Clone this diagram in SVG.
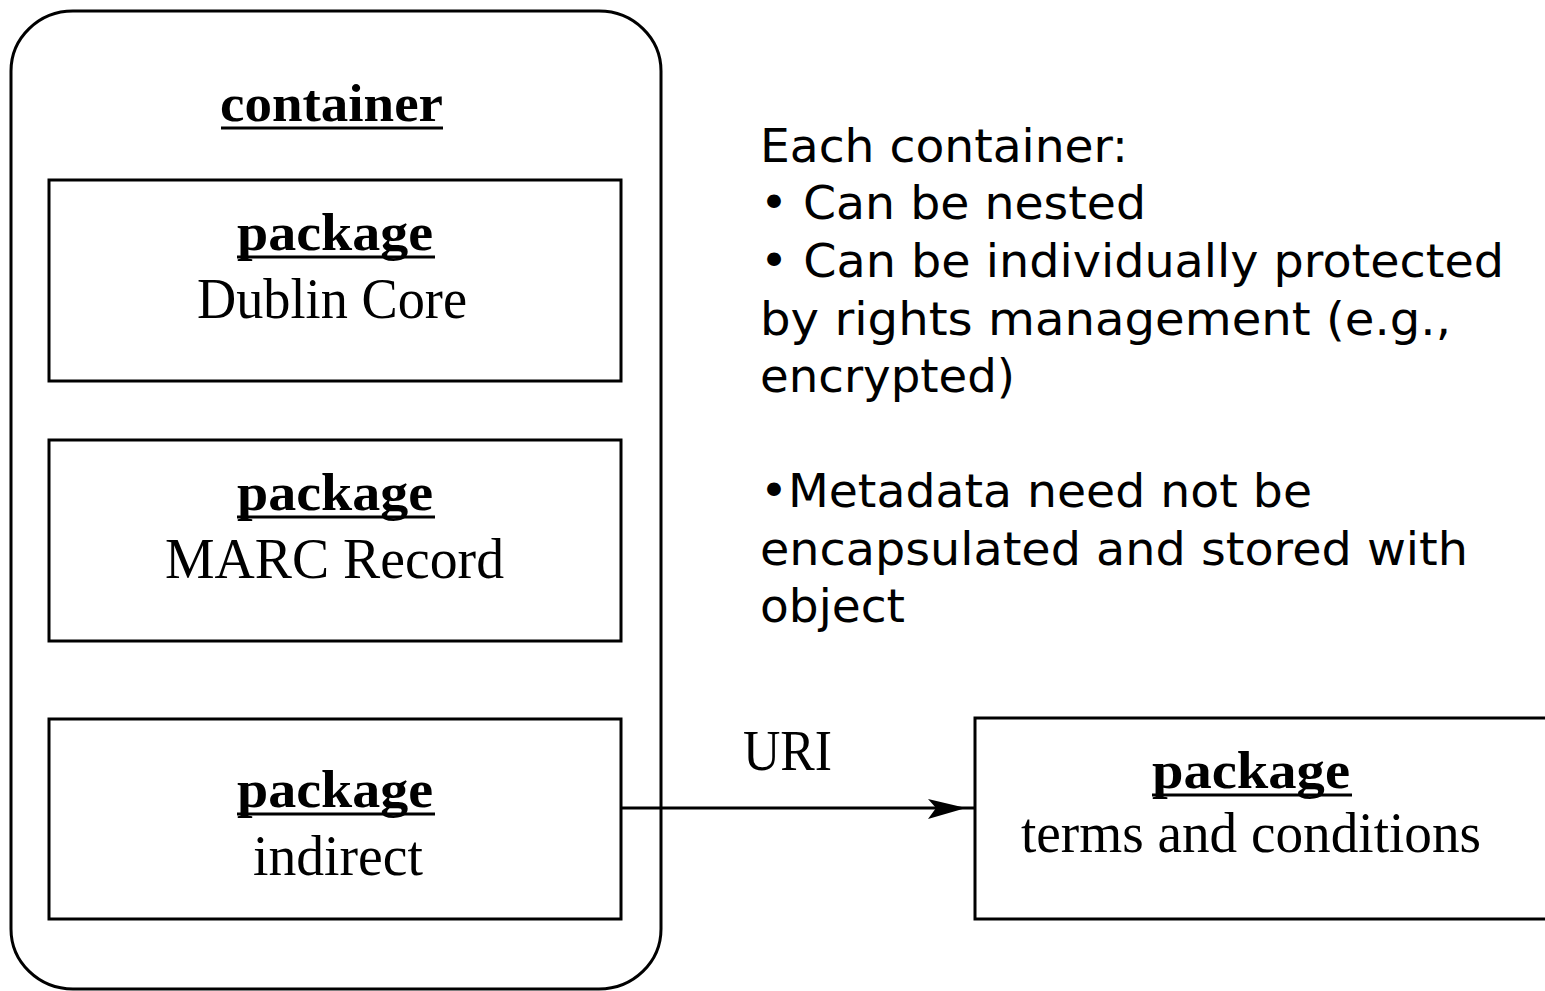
<svg xmlns="http://www.w3.org/2000/svg" width="1545" height="991" viewBox="0 0 1545 991">
<style>
.box{fill:#fff;stroke:#000;stroke-width:3}
.ul{stroke:#000;stroke-width:3}
.lbl{font-family:"Liberation Serif","Times New Roman",serif;font-weight:bold;font-size:52px;fill:#000}
.sub{font-family:"Liberation Serif","Times New Roman",serif;font-size:56px;fill:#000}
.note{font-family:"DejaVu Sans",Verdana,sans-serif;font-size:46px;fill:#000}
.conn{stroke:#000;stroke-width:3;fill:none}
</style>
<defs>
<marker id="arr" markerWidth="40" markerHeight="24" refX="38" refY="12" orient="auto" markerUnits="userSpaceOnUse">
<path d="M2,2 L38,12 L2,22 L8,12 Z" fill="#000"/>
</marker>
</defs>
<rect width="1545" height="991" fill="#fff"/>
<g id="container">
<rect class="box" x="11" y="11" width="650" height="978" rx="62" ry="60"/>
<text class="lbl" x="220" y="121" textLength="223" lengthAdjust="spacingAndGlyphs">container</text>
<line class="ul" x1="221" y1="128" x2="443" y2="128"/>
</g>
<g id="pkg-dublin">
<rect class="box" x="49" y="180" width="572" height="201"/>
<text class="lbl" x="237" y="250" textLength="196" lengthAdjust="spacingAndGlyphs">package</text>
<line class="ul" x1="237" y1="257" x2="435" y2="257"/>
<text class="sub" x="197" y="318" textLength="270" lengthAdjust="spacingAndGlyphs">Dublin Core</text>
</g>
<g id="pkg-marc">
<rect class="box" x="49" y="440" width="572" height="201"/>
<text class="lbl" x="237" y="510" textLength="196" lengthAdjust="spacingAndGlyphs">package</text>
<line class="ul" x1="237" y1="517" x2="435" y2="517"/>
<text class="sub" x="165" y="578" textLength="339" lengthAdjust="spacingAndGlyphs">MARC Record</text>
</g>
<g id="pkg-indirect">
<rect class="box" x="49" y="719" width="572" height="200"/>
<text class="lbl" x="237" y="807" textLength="196" lengthAdjust="spacingAndGlyphs">package</text>
<line class="ul" x1="237" y1="814" x2="435" y2="814"/>
<text class="sub" x="253" y="875" textLength="170" lengthAdjust="spacingAndGlyphs">indirect</text>
</g>
<g id="pkg-terms">
<rect class="box" x="975" y="718" width="575" height="201"/>
<text class="lbl" x="1152" y="788" textLength="198" lengthAdjust="spacingAndGlyphs">package</text>
<line class="ul" x1="1152" y1="795" x2="1352" y2="795"/>
<text class="sub" x="1021" y="852" textLength="460" lengthAdjust="spacingAndGlyphs">terms and conditions</text>
</g>
<g id="connectors">
<line class="conn" x1="621" y1="808" x2="975" y2="808"/>
<path d="M928,799 L966,808 L928,819 L936,808 Z" fill="#000"/>
<text class="sub" x="743" y="770" textLength="89" lengthAdjust="spacingAndGlyphs">URI</text>
</g>
<g id="notes">
<text class="note" x="760" y="162" textLength="368" lengthAdjust="spacingAndGlyphs">Each container:</text>
<text class="note" x="760" y="219" textLength="386" lengthAdjust="spacingAndGlyphs">• Can be nested</text>
<text class="note" x="760" y="277" textLength="744" lengthAdjust="spacingAndGlyphs">• Can be individually protected</text>
<text class="note" x="760" y="335" textLength="691" lengthAdjust="spacingAndGlyphs">by rights management (e.g.,</text>
<text class="note" x="760" y="392" textLength="255" lengthAdjust="spacingAndGlyphs">encrypted)</text>
<text class="note" x="760" y="507" textLength="552" lengthAdjust="spacingAndGlyphs">•Metadata need not be</text>
<text class="note" x="760" y="565" textLength="708" lengthAdjust="spacingAndGlyphs">encapsulated and stored with</text>
<text class="note" x="760" y="622" textLength="145" lengthAdjust="spacingAndGlyphs">object</text>
</g>
</svg>
